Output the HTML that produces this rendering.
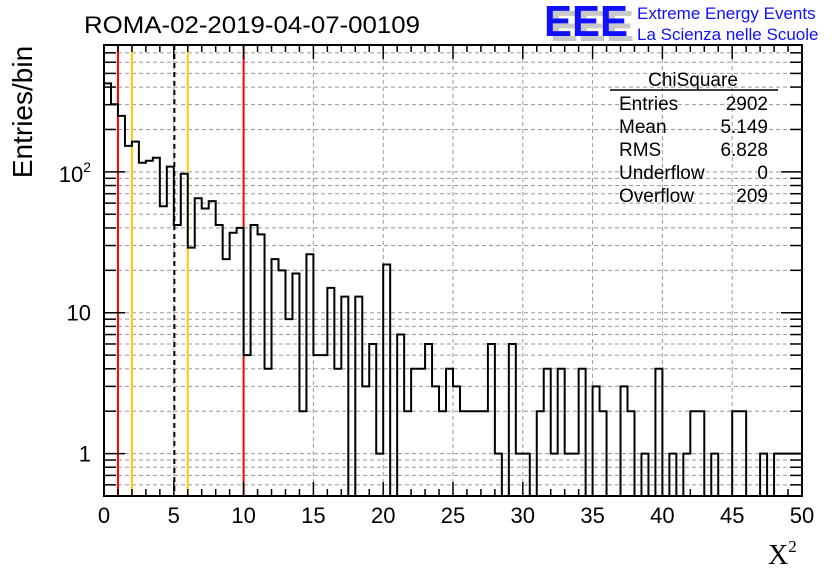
<!DOCTYPE html>
<html><head><meta charset="utf-8"><style>
html,body{margin:0;padding:0;background:#fff}
svg{display:block;font-family:"Liberation Sans",sans-serif}
</style></head><body>
<svg id="c" width="836" height="572" viewBox="0 0 836 572">
<rect width="836" height="572" fill="#fff"/>
<g id="grid"></g>
<g id="vlines"></g>
<g id="hist"></g>
<g id="axes"></g>
<text x="84" y="33" font-size="24" textLength="336" lengthAdjust="spacingAndGlyphs">ROMA-02-2019-04-07-00109</text>
<g>
<text x="550" y="41" font-size="44" font-weight="bold" fill="#c8c8c8" textLength="84" lengthAdjust="spacingAndGlyphs">EEE</text>
<text x="544" y="36" font-size="44" font-weight="bold" fill="#1010ff" textLength="84" lengthAdjust="spacingAndGlyphs">EEE</text>
<text x="637" y="19" font-size="17" fill="#1010ff">Extreme Energy Events</text>
<text x="637" y="40" font-size="17" fill="#1010ff">La Scienza nelle Scuole</text>
</g>
<g font-size="19">
<text x="693" y="86" text-anchor="middle">ChiSquare</text>
<line x1="610" y1="90" x2="778" y2="90" stroke="#000" stroke-width="1.5"/>
<text x="619" y="110">Entries</text><text x="768" y="110" text-anchor="end">2902</text>
<text x="619" y="133">Mean</text><text x="768" y="133" text-anchor="end">5.149</text>
<text x="619" y="156">RMS</text><text x="768" y="156" text-anchor="end">6.828</text>
<text x="619" y="179">Underflow</text><text x="768" y="179" text-anchor="end">0</text>
<text x="619" y="202">Overflow</text><text x="768" y="202" text-anchor="end">209</text>
</g>
<text transform="translate(32,112) rotate(-90)" text-anchor="middle" font-size="28">Entries/bin</text>
<text x="768" y="564" font-size="28" font-family="Liberation Serif,serif">X<tspan font-size="17" dy="-12">2</tspan></text>
</svg>
<script>
const binCounts = [425,302,250,153,164,116,120,126,57,109,42,97,29,65,55,62,42,24,37,40,
5,42,36,4,24,20,9,19,2,26,5,5,15,4,13,0,13,3,6,1,
22,0,7,2,4,4,6,3,2,4,3,2,2,2,2,6,1,0,6,1,
1,0,2,4,1,4,1,1,4,0,3,2,0,0,3,2,0,1,0,4,
0,1,0,1,2,2,0,1,0,0,2,2,0,0,1,0,1,1,1,1];
const binWidth = [0.5];
const xTickLabels = ["0","5","10","15","20","25","30","35","40","45","50"];
const cutLines = [{x:1,c:"#ff0000",d:""},{x:2,c:"#ffcc00",d:""},{x:5.04,c:"#000",d:"5,4"},{x:6,c:"#ffcc00",d:""},{x:10,c:"#ff0000",d:""}];
const X0=104,X1=802,Y0=45,Y1=496,XMAX=50,YMIN=0.5,YMAX=10**(409/141);
const NS="http://www.w3.org/2000/svg";
function sx(v){return X0+(X1-X0)*v/XMAX;}
function sy(v){if(v<=0)return Y1;return Y1-(Y1-Y0)*(Math.log10(v)-Math.log10(YMIN))/(Math.log10(YMAX)-Math.log10(YMIN));}
function mk(tag,attrs,parent){const e=document.createElementNS(NS,tag);for(const k in attrs)e.setAttribute(k,attrs[k]);parent.appendChild(e);return e;}
const grid=document.getElementById('grid'),axes=document.getElementById('axes'),hist=document.getElementById('hist'),vl=document.getElementById('vlines');
const yvals=[];
for(const dec of [0.1,1,10,100])for(let m=1;m<=9;m++){const v=m*dec;if(v>=YMIN&&v<=YMAX)yvals.push(v);}
yvals.forEach(v=>{
  const y=sy(v);
  const g=mk('line',{x1:X0,x2:X1,y1:y,y2:y,stroke:'#999','stroke-dasharray':'4,3','stroke-width':1},grid);
  
  
  const major=[1,10,100].includes(Math.round(v*10)/10);
  const L=major?21:12;
  mk('line',{x1:X0,x2:X0+L,y1:y,y2:y,stroke:'#000','stroke-width':1.5},axes);
  mk('line',{x1:X1,x2:X1-L,y1:y,y2:y,stroke:'#000','stroke-width':1.5},axes);
});
for(let i=0;i<=XMAX;i++){
  const x=sx(i);const major=i%5===0;
  if(major&&i>0&&i<XMAX){
    const g=mk('line',{x1:x,x2:x,y1:Y0,y2:Y1,stroke:'#999','stroke-dasharray':'4,3','stroke-width':1},grid);
    
    
  }
  const L=major?14:7;
  mk('line',{x1:x,x2:x,y1:Y1,y2:Y1-L,stroke:'#000','stroke-width':1.5},axes);
  mk('line',{x1:x,x2:x,y1:Y0,y2:Y0+L,stroke:'#000','stroke-width':1.5},axes);
}
xTickLabels.forEach((t,i)=>{
  const e=mk('text',{x:sx(+t),y:523,'text-anchor':'middle','font-size':22},axes);e.textContent=t;
  
  
});
[[1,"1"],[10,"10"]].forEach(([v,t])=>{
  const e=mk('text',{x:91,y:sy(v)+8,'text-anchor':'end','font-size':22},axes);e.textContent=t;
  
  
});
{const e=mk('text',{x:91,y:sy(100)+10,'text-anchor':'end','font-size':22},axes);
e.innerHTML='10<tspan font-size="14" dy="-10">2</tspan>';

}
mk('rect',{x:X0,y:Y0,width:X1-X0,height:Y1-Y0,fill:'none',stroke:'#000','stroke-width':2},axes);
cutLines.forEach(c=>{
  const l=mk('line',{x1:sx(c.x),x2:sx(c.x),y1:Y0,y2:Y1,stroke:c.c,'stroke-width':2,'stroke-dasharray':c.d},vl);
  
  
});
let d='M'+X0+','+Y1;
binCounts.forEach((v,i)=>{const y=sy(v);d+=' L'+sx(i*binWidth[0])+','+y+' L'+sx((i+1)*binWidth[0])+','+y;});
d+=' L'+X1+','+Y1;
const p=mk('path',{d:d,fill:'none',stroke:'#000','stroke-width':2},hist);


</script>
</body></html>
